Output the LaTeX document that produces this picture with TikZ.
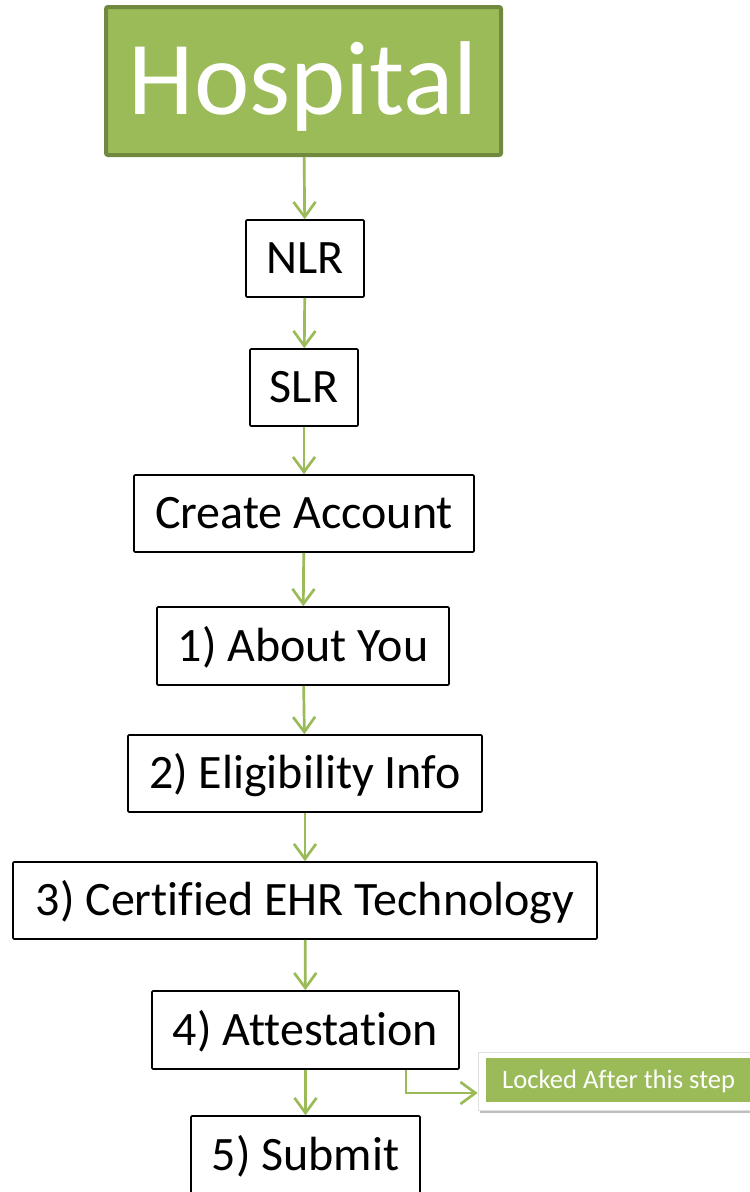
\documentclass[tikz,border=0pt]{standalone}
\usepackage{fontspec}
\setmainfont{Carlito}[Ligatures=NoCommon]
\usetikzlibrary{arrows.meta,shadows}
\definecolor{ogreen}{HTML}{9BBB59}
\definecolor{dgreen}{HTML}{71893F}
\begin{document}
\begin{tikzpicture}[x=1pt,y=-1pt,
 box/.style={draw=black,line width=1.6pt,fill=white,inner sep=0pt,rounded corners=1pt,
   font=\fontsize{48}{50}\selectfont,text height=30pt,text depth=0pt},
 arr/.style={draw=ogreen,line width=2.7pt,-{Straight Barb[length=15pt,width=22pt,line width=2.7pt]}},
]
\useasboundingbox (0,0) rectangle (750,1192);
\clip (0,0) rectangle (750,1192);
\node[draw=dgreen,line width=4pt,fill=ogreen,text=white,rounded corners=2pt,
  minimum width=395pt,minimum height=148pt,inner sep=0pt,
  font=\fontsize{105}{110}\selectfont,text height=67pt,text depth=0pt] (hosp) at (303.5,81) {Hospital};
\node[box,minimum width=118pt,minimum height=77pt] (nlr) at (305,258.5) {NLR};
\node[box,minimum width=108pt,minimum height=77pt] (slr) at (304,387.5) {SLR};
\node[box,minimum width=340pt,minimum height=77pt] (create) at (304,513.5) {Create Account};
\node[box,minimum width=292pt,minimum height=78pt] (about) at (303,646) {1) About You};
\node[box,minimum width=354pt,minimum height=77pt] (elig) at (305,773.5) {2) Eligibility Info};
\node[box,minimum width=584pt,minimum height=77pt] (cert) at (305,900.5) {3) Certified EHR Technology};
\node[box,minimum width=307pt,minimum height=78pt] (attest) at (305.5,1030) {4) Attestation};
\node[box,minimum width=229pt,minimum height=78pt] (submit) at (305.5,1155) {5) Submit};
\node[fill=white,draw=black!12,line width=0.6pt,minimum width=282pt,minimum height=58pt,inner sep=0pt,
  drop shadow={shadow xshift=1.5pt,shadow yshift=-2.5pt,opacity=0.25,fill=black}] (locked) at (619,1081) {};
\node[fill=ogreen,text=white,anchor=west,minimum height=44pt,inner xsep=16pt,inner ysep=0pt,
  font=\fontsize{26.6}{29}\selectfont,text height=17pt,text depth=0pt] (lockedtext) at (486,1080) {Locked After this step};
\draw[arr] (hosp) -- (nlr);
\draw[arr] (nlr) -- (slr);
\draw[arr] (slr) -- (create);
\draw[arr] (create) -- (about);
\draw[arr] (about) -- (elig);
\draw[arr] (elig) -- (cert);
\draw[arr] (cert) -- (attest);
\draw[arr] (attest) -- (submit);
\draw[arr,rounded corners=0pt] ([xshift=100.5pt]attest.south) |- ([yshift=-12pt]locked.west);
\end{tikzpicture}
\end{document}
